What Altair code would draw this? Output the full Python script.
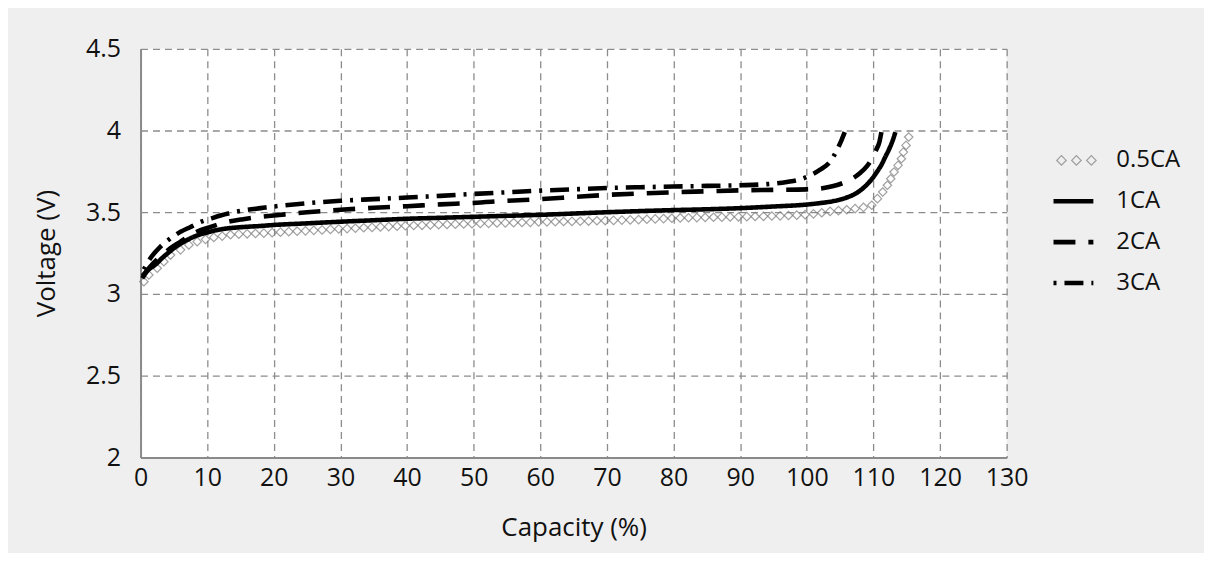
import altair as alt
import pandas as pd

FONT = "Open Sans"
series_names = ["0.5CA", "1CA", "2CA", "3CA"]

# 0.5CA (diamond markers)
cap_05 = [0.5, 1.25, 2.5, 3.5, 4.5, 6.0, 7.25, 8.5, 9.75, 11.0, 12.25, 13.5, 14.75, 16.0, 17.25,
          18.5, 19.75, 21.0, 22.25, 23.5, 24.75, 26.0, 27.25, 28.5, 29.75, 31.0, 32.25, 33.5, 34.75,
          36.0, 37.25, 38.5, 39.75, 41.0, 42.25, 43.5, 44.75, 46.0, 47.25, 48.5, 49.75, 51.0, 52.25,
          53.5, 54.75, 56.0, 57.25, 58.5, 59.75, 61.0, 62.25, 63.5, 64.75, 66.0, 67.25, 68.5, 69.75,
          71.0, 72.25, 73.5, 74.75, 76.0, 77.25, 78.5, 79.75, 81.0, 82.25, 83.5, 84.75, 86.0, 87.25,
          88.5, 89.75, 91.0, 92.25, 93.5, 94.75, 96.0, 97.25, 98.5, 99.75, 101.0, 102.25, 103.5,
          104.75, 106.0, 107.25, 108.5, 109.75, 110.6, 111.4, 112.1, 112.6, 113.1, 113.7, 114.2,
          114.5, 114.9, 115.3]
volt_05 = [3.075, 3.116, 3.157, 3.197, 3.238, 3.270, 3.300, 3.320, 3.334, 3.346, 3.354, 3.362, 3.366,
           3.368, 3.370, 3.372, 3.375, 3.378, 3.381, 3.384, 3.386, 3.389, 3.392, 3.395, 3.398, 3.400,
           3.402, 3.405, 3.407, 3.410, 3.412, 3.414, 3.417, 3.419, 3.420, 3.422, 3.424, 3.425, 3.427,
           3.428, 3.430, 3.431, 3.432, 3.434, 3.435, 3.436, 3.437, 3.438, 3.440, 3.441, 3.442, 3.443,
           3.444, 3.445, 3.446, 3.448, 3.449, 3.450, 3.452, 3.453, 3.455, 3.457, 3.459, 3.461, 3.463,
           3.465, 3.466, 3.467, 3.468, 3.469, 3.470, 3.471, 3.472, 3.473, 3.474, 3.475, 3.477, 3.478,
           3.480, 3.482, 3.485, 3.490, 3.497, 3.505, 3.510, 3.515, 3.522, 3.530, 3.543, 3.583, 3.624,
           3.665, 3.705, 3.746, 3.787, 3.827, 3.868, 3.909, 3.960]

# 1CA (solid)
cap_1 = [0.25, 1.0, 2.25, 3.25, 4.25, 5.5, 6.75, 8.0, 9.25, 10.5, 11.75, 13.0, 14.25, 16.0, 18.0,
         20.0, 25.0, 30.0, 35.0, 40.0, 45.0, 50.0, 55.0, 60.0, 65.0, 70.0, 75.0, 80.0, 85.0, 90.0,
         95.0, 100.0, 102.0, 104.0, 106.0, 107.5, 108.8, 109.8, 110.5, 111.2, 111.8, 112.4, 112.9, 113.3]
volt_1 = [3.096, 3.140, 3.180, 3.220, 3.255, 3.295, 3.325, 3.350, 3.368, 3.382, 3.393, 3.401, 3.406,
          3.411, 3.416, 3.422, 3.432, 3.442, 3.451, 3.460, 3.466, 3.472, 3.478, 3.484, 3.492, 3.500,
          3.507, 3.513, 3.518, 3.525, 3.535, 3.547, 3.556, 3.568, 3.590, 3.618, 3.660, 3.705, 3.745,
          3.790, 3.840, 3.890, 3.940, 3.990]

# 2CA (long dash)
cap_2 = [0.3, 1.5, 3.0, 4.5, 6.0, 7.5, 9.0, 10.5, 12.0, 13.5, 15.0, 17.5, 20.0, 25.0, 30.0, 35.0,
         40.0, 45.0, 50.0, 55.0, 60.0, 65.0, 70.0, 75.0, 80.0, 85.0, 90.0, 95.0, 100.0, 102.0, 104.0,
         105.5, 106.8, 108.0, 109.0, 109.8, 110.4, 110.9, 111.2]
volt_2 = [3.110, 3.170, 3.230, 3.280, 3.320, 3.360, 3.390, 3.410, 3.430, 3.445, 3.455, 3.470, 3.480,
          3.500, 3.515, 3.527, 3.537, 3.548, 3.557, 3.570, 3.580, 3.593, 3.606, 3.615, 3.622, 3.628,
          3.634, 3.637, 3.640, 3.645, 3.660, 3.680, 3.705, 3.740, 3.780, 3.830, 3.880, 3.930, 3.990]

# 3CA (long dash - dot)
cap_3 = [0.5, 1.5, 3.0, 4.5, 6.0, 7.5, 9.0, 10.5, 12.0, 14.0, 16.0, 18.0, 20.0, 25.0, 30.0, 35.0,
         40.0, 45.0, 50.0, 55.0, 60.0, 65.0, 70.0, 75.0, 80.0, 85.0, 90.0, 94.0, 97.0, 99.0, 100.5,
         102.0, 103.5, 104.5, 105.2, 105.7]
volt_3 = [3.150, 3.220, 3.290, 3.340, 3.380, 3.410, 3.440, 3.460, 3.480, 3.500, 3.515, 3.525, 3.535,
          3.555, 3.570, 3.580, 3.590, 3.600, 3.612, 3.622, 3.632, 3.640, 3.648, 3.653, 3.657, 3.661,
          3.665, 3.672, 3.685, 3.700, 3.725, 3.760, 3.810, 3.878, 3.940, 3.990]

x_ticks = [0, 10, 20, 30, 40, 50, 60, 70, 80, 90, 100, 110, 120, 130]
y_ticks = [2, 2.5, 3, 3.5, 4, 4.5]

line_series = ["1CA", "2CA", "3CA"]
dash_patterns = [[1, 0], [22, 13], [3, 8, 19, 8]]

df_pts = pd.DataFrame({"cap": cap_05, "volt": volt_05, "series": "0.5CA"})
df_lines = pd.concat([
    pd.DataFrame({"cap": cap_1, "volt": volt_1, "series": "1CA"}),
    pd.DataFrame({"cap": cap_2, "volt": volt_2, "series": "2CA"}),
    pd.DataFrame({"cap": cap_3, "volt": volt_3, "series": "3CA"}),
], ignore_index=True)

x_enc = alt.X("cap:Q", scale=alt.Scale(domain=[0, 130], nice=False),
              axis=alt.Axis(values=x_ticks, title="Capacity (%)", labelFlush=False,
                            labelOverlap=False, labelPadding=8, titlePadding=24))
y_enc = alt.Y("volt:Q", scale=alt.Scale(domain=[2, 4.5], nice=False, zero=False),
              axis=alt.Axis(values=y_ticks, format="~g", title="Voltage (V)",
                            labelPadding=20, titlePadding=26))

dash_scale = alt.Scale(domain=line_series, range=dash_patterns)

pts = alt.Chart(df_pts).mark_point(
    shape="diamond", filled=False, size=72, stroke="#7a7a7a", strokeWidth=1.2
).encode(x=x_enc, y=y_enc)

lines = alt.Chart(df_lines).mark_line(
    color="black", strokeWidth=4.6, interpolate="monotone", strokeCap="butt"
).encode(x=x_enc, y=y_enc,
         strokeDash=alt.StrokeDash("series:N", scale=dash_scale, legend=None),
         detail="series:N")

main = alt.layer(pts, lines).properties(
    width=869, height=410, view=alt.ViewBackground(fill="white", stroke=None))

# ---- legend panel ----
leg_line_df = pd.DataFrame({"series": ["1CA", "1CA", "2CA", "2CA", "3CA", "3CA"],
                            "pos": [0, 1, 0, 1, 0, 1]})
leg_pt_df = pd.DataFrame({"series": ["0.5CA"] * 3, "pos": [0.2, 0.575, 0.95]})
leg_txt_df = pd.DataFrame({"series": series_names, "pos": [1] * 4})

lx = alt.X("pos:Q", scale=alt.Scale(domain=[0, 1], nice=False), axis=None)
ly = alt.Y("series:N", scale=alt.Scale(type="point", domain=series_names, range=[112, 235],
                                       padding=0), axis=None)

leg_lines = alt.Chart(leg_line_df).mark_line(color="black", strokeWidth=4.6, strokeCap="butt").encode(
    x=lx, y=ly, strokeDash=alt.StrokeDash("series:N", scale=dash_scale, legend=None),
    detail="series:N")
leg_pts = alt.Chart(leg_pt_df).mark_point(
    shape="diamond", filled=False, size=90, stroke="#7a7a7a", strokeWidth=1.2
).encode(x=lx, y=ly)
leg_txt = alt.Chart(leg_txt_df).mark_text(
    align="left", baseline="middle", dx=23, font=FONT, fontSize=24, color="#111"
).encode(x=lx, y=ly, text="series:N")

legend = alt.layer(leg_pts, leg_lines, leg_txt).properties(
    width=40, height=410, view=alt.ViewBackground(fill=None, stroke=None))

chart = alt.hconcat(main, legend, spacing=47, bounds="flush").properties(
    background="#efefef",
    padding={"left": 25, "top": 28, "right": 23, "bottom": 12},
).configure_view(stroke=None).configure_axis(
    labelFont=FONT, labelFontSize=25, labelColor="#111",
    titleFont=FONT, titleFontSize=26, titleColor="#111", titleFontWeight="normal",
    ticks=False, domainColor="#8a8a8a", domainWidth=2,
    gridColor="#8c8c8c", gridDash=[7, 5], gridWidth=1.3,
)

chart.save("out.html", embed_options={"renderer": "svg", "actions": False})
